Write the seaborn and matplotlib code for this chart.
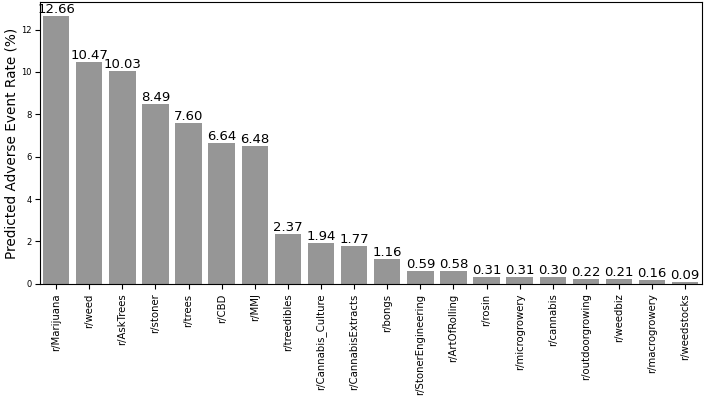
import pandas as pd
import seaborn as sns
import matplotlib.pyplot as plt

subreddits = ["r/Marijuana", "r/weed", "r/AskTrees", "r/stoner", "r/trees", "r/CBD", "r/MMJ",
              "r/treedibles", "r/Cannabis_Culture", "r/CannabisExtracts", "r/bongs",
              "r/StonerEngineering", "r/ArtOfRolling", "r/rosin", "r/microgrowery",
              "r/cannabis", "r/outdoorgrowing", "r/weedbiz", "r/macrogrowery", "r/weedstocks"]
rates = [12.66, 10.47, 10.03, 8.49, 7.60, 6.64, 6.48, 2.37, 1.94, 1.77, 1.16,
         0.59, 0.58, 0.31, 0.31, 0.30, 0.22, 0.21, 0.16, 0.09]

df = pd.DataFrame({"subreddit": subreddits, "rate": rates})

fig, ax = plt.subplots(figsize=(7.06, 3.98), dpi=100)
sns.barplot(x="subreddit", y="rate", data=df, color="#969696", saturation=1, ax=ax)

# value labels on top of each bar
for i, v in enumerate(rates):
    ax.text(i, v, f"{v:.2f}", ha="center", va="bottom", fontsize=9.5)

ax.set_xlabel("")
ax.set_ylabel("Predicted Adverse Event Rate (%)", fontsize=9.8, labelpad=2)
ax.tick_params(axis="y", labelsize=6, pad=2)
ax.tick_params(axis="x", labelsize=7.3, rotation=90)
ax.set_ylim(0, 13.3)

fig.subplots_adjust(left=0.056, right=0.994, top=0.995, bottom=0.287)
fig.savefig("out.png", dpi=100)
